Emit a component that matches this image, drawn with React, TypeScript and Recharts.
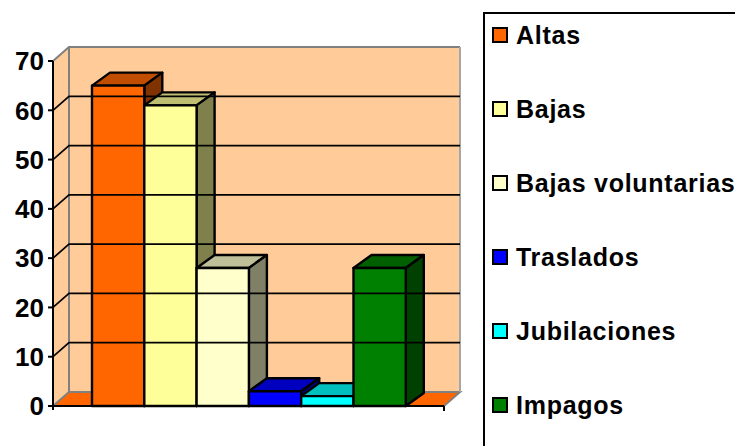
import React from "react";
import { BarChart, Bar, XAxis, YAxis, ReferenceArea, ReferenceLine, Legend } from "recharts";

const SERIES = ["Altas", "Bajas", "Bajas voluntarias", "Traslados", "Jubilaciones", "Impagos"];
const VALUES = [65, 61, 28, 3, 2, 28];
const TICKS = [0, 10, 20, 30, 40, 50, 60, 70];
const GRID_LINES = [10, 20, 30, 40, 50, 60];

const FRONT = ["#FF6600", "#FFFF99", "#FFFFCC", "#0000FF", "#00FFFF", "#008000"];
const TOP = ["#C04D00", "#BFBF73", "#BFBF99", "#0000BF", "#00BFBF", "#006000"];
const SIDE = ["#803300", "#80804D", "#808066", "#000080", "#008080", "#004000"];

const WALL = "#FFCC99";
const WALL_EDGE = "#808080";
const FONT = "'Liberation Sans', Arial, sans-serif";

// 3d offset of the back wall and of the bars
const WALL_DX = 16;
const WALL_DY = 14;
const BAR_DX = 18;
const BAR_DY = 13;

const rows = [Object.fromEntries([["name", ""], ...SERIES.map((s, i) => [s, VALUES[i]])])];

function pts(...p: number[][]) {
  return p.map((c) => c.join(",")).join(" ");
}

function Box3D(props: any) {
  const { x, y, width, height, seriesIndex } = props;
  const r = x + width;
  const b = y + height;
  const line = { stroke: "#000", strokeWidth: 2.4, strokeLinejoin: "round" as const };
  return (
    <g>
      <polygon points={pts([x, y], [x + BAR_DX, y - BAR_DY], [r + BAR_DX, y - BAR_DY], [r, y])} fill={TOP[seriesIndex]} {...line} />
      <polygon points={pts([r, y], [r + BAR_DX, y - BAR_DY], [r + BAR_DX, b - BAR_DY], [r, b])} fill={SIDE[seriesIndex]} {...line} />
      <rect x={x} y={y} width={width} height={height} fill={FRONT[seriesIndex]} {...line} />
    </g>
  );
}

function Walls(props: any) {
  const { x, y, width, height } = props;
  const r = x + width;
  const b = y + height;
  const bx = x + WALL_DX;
  const br = r + WALL_DX;
  const ty = y - WALL_DY;
  const by = b - WALL_DY;
  return (
    <g>
      <rect x={bx} y={ty} width={width} height={height} fill={WALL} />
      <polygon points={pts([x, y], [bx, ty], [bx, by], [x, b])} fill={WALL} />
      <polygon points={pts([x, b], [bx, by], [br, by], [r, b])} fill={FRONT[0]} />
      <polyline points={pts([x, y], [bx, ty], [br, ty])} fill="none" stroke={WALL_EDGE} strokeWidth={2} />
      <line x1={bx} y1={ty} x2={bx} y2={by} stroke={WALL_EDGE} strokeWidth={2} />
      <polyline points={pts([x, b], [bx, by], [br, by], [r, b])} fill="none" stroke={WALL_EDGE} strokeWidth={2} />
      <line x1={br} y1={ty} x2={br} y2={by} stroke="#A6A6A6" strokeWidth={2} />
      <line x1={r} y1={b} x2={r} y2={b + 5} stroke="#000" strokeWidth={2} />
      <line x1={x} y1={b} x2={x} y2={b + 4} stroke="#000" strokeWidth={2} />
    </g>
  );
}

function WallGridLine(props: any) {
  const { x1, y1, x2, y2 } = props;
  return (
    <polyline
      points={pts([x1, y1], [x1 + WALL_DX, y1 - WALL_DY], [x2 + WALL_DX, y2 - WALL_DY])}
      fill="none"
      stroke="#000"
      strokeWidth={1.7}
    />
  );
}

function LegendBox() {
  return (
    <div
      style={{
        width: 252,
        height: 434,
        boxSizing: "border-box",
        borderLeft: "2px solid #000",
        borderTop: "2px solid #000",
        background: "#fff",
        fontFamily: FONT,
        fontWeight: 700,
        fontSize: 25,
        letterSpacing: 0.73,
        color: "#000",
        position: "relative",
      }}
    >
      {SERIES.map((s, i) => (
        <div
          key={s}
          style={{ position: "absolute", left: 7, top: 6 + i * 74, display: "flex", alignItems: "center", height: 30, whiteSpace: "nowrap" }}
        >
          <span
            style={{ width: 12, height: 12, border: "2px solid #000", background: FRONT[i], marginRight: 8, flex: "none" }}
          />
          {s}
        </div>
      ))}
    </div>
  );
}

export default function App() {
  return (
    <div style={{ position: "absolute", left: 0, top: 0, width: 735, height: 446, overflow: "hidden" }}>
      <BarChart
        width={735}
        height={446}
        data={rows}
        margin={{ top: 61, right: 39, bottom: 0, left: 0 }}
        barGap={0}
        barSize={52.3}
      >
        <XAxis
          dataKey="name"
          tick={false}
          tickLine={false}
          height={40}
          axisLine={{ stroke: "#000", strokeWidth: 2 }}
        />
        <YAxis
          width={53}
          domain={[0, 70]}
          ticks={TICKS}
          interval={0}
          tickSize={5}
          tickMargin={4}
          axisLine={{ stroke: "#000", strokeWidth: 2 }}
          tickLine={{ stroke: "#000", strokeWidth: 2 }}
          tick={{ fill: "#000", fontFamily: FONT, fontWeight: 700, fontSize: 26 }}
        />
        <ReferenceArea y1={0} y2={70} ifOverflow="visible" shape={Walls} />
        {GRID_LINES.map((t) => (
          <ReferenceLine key={t} y={t} ifOverflow="visible" shape={WallGridLine} />
        ))}
        {SERIES.map((s, i) => (
          <Bar
            key={s}
            dataKey={s}
            isAnimationActive={false}
            fill={FRONT[i]}
            shape={(p: any) => <Box3D {...p} seriesIndex={i} />}
          />
        ))}
        <Legend
          layout="vertical"
          align="right"
          verticalAlign="top"
          wrapperStyle={{ top: 12, right: 0 }}
          content={() => <LegendBox />}
        />
      </BarChart>
    </div>
  );
}
